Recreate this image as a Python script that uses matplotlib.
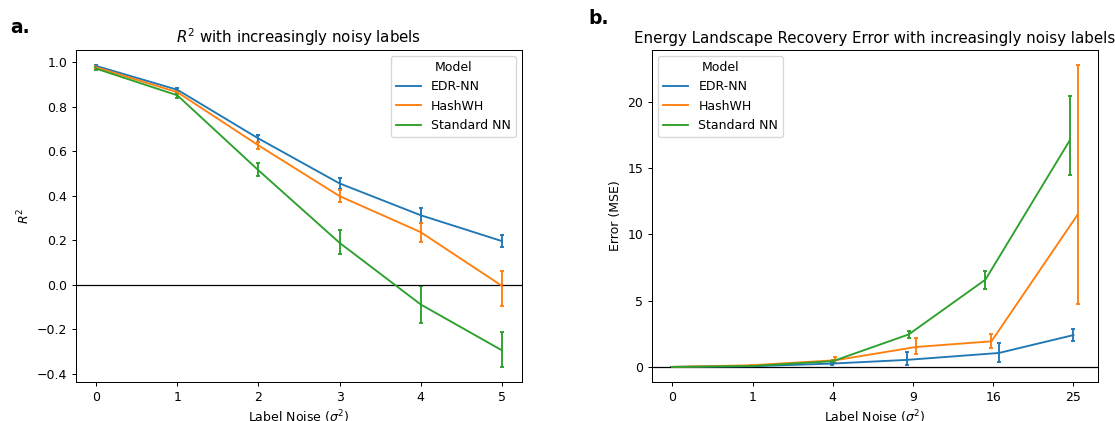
import numpy as np
import matplotlib
matplotlib.use("Agg")
import matplotlib.pyplot as plt
from matplotlib.lines import Line2D

models = ["EDR-NN", "HashWH", "Standard NN"]
colors = ["#1f77b4", "#ff7f0e", "#2ca02c"]

# Panel a: R^2
noise_a = [0, 1, 2, 3, 4, 5]
r2_mean = {
    "EDR-NN":      [0.984, 0.877, 0.658, 0.456, 0.313, 0.197],
    "HashWH":      [0.978, 0.866, 0.627, 0.399, 0.237, -0.004],
    "Standard NN": [0.972, 0.852, 0.515, 0.189, -0.088, -0.294],
}
r2_low = {
    "EDR-NN":      [0.980, 0.870, 0.642, 0.432, 0.279, 0.172],
    "HashWH":      [0.974, 0.859, 0.612, 0.372, 0.194, -0.093],
    "Standard NN": [0.966, 0.840, 0.490, 0.140, -0.170, -0.369],
}
r2_high = {
    "EDR-NN":      [0.988, 0.884, 0.673, 0.480, 0.347, 0.222],
    "HashWH":      [0.982, 0.873, 0.642, 0.427, 0.280, 0.060],
    "Standard NN": [0.978, 0.864, 0.546, 0.245, -0.003, -0.212],
}

# Panel b: MSE
noise_b_labels = ["0", "1", "4", "9", "16", "25"]
mse_mean = {
    "EDR-NN":      [0.0, 0.05, 0.25, 0.53, 1.05, 2.40],
    "HashWH":      [0.0, 0.12, 0.50, 1.50, 1.93, 11.49],
    "Standard NN": [0.0, 0.07, 0.43, 2.45, 6.58, 17.10],
}
mse_low = {
    "EDR-NN":      [0.0, 0.03, 0.13, 0.18, 0.38, 1.98],
    "HashWH":      [0.0, 0.08, 0.30, 1.00, 1.40, 4.76],
    "Standard NN": [0.0, 0.05, 0.33, 2.18, 5.86, 14.44],
}
mse_high = {
    "EDR-NN":      [0.0, 0.07, 0.40, 1.10, 1.80, 2.88],
    "HashWH":      [0.0, 0.16, 0.73, 2.20, 2.50, 22.75],
    "Standard NN": [0.0, 0.09, 0.55, 2.73, 7.26, 20.40],
}
# horizontal jitter of each series in panel b (category units)
mse_offset = {
    "EDR-NN":      [0.0, 0.0, -0.01, -0.075, 0.07, 0.0],
    "HashWH":      [0.0, -0.025, 0.03, 0.035, -0.022, 0.053],
    "Standard NN": [0.0, 0.0, 0.0, -0.053, -0.097, -0.044],
}

DPI = 90
W, H = 1115, 421
fig = plt.figure(figsize=(W / DPI, H / DPI), dpi=DPI)
ax1 = fig.add_axes([76 / W, 1 - 382 / H, (522 - 76) / W, (382 - 50) / H])
ax2 = fig.add_axes([652 / W, 1 - 382 / H, (1098 - 652) / W, (382 - 50) / H])

handles = [Line2D([], [], color=c, lw=1.5) for c in colors]

for m, c in zip(models, colors):
    mean = np.array(r2_mean[m])
    err = np.vstack([mean - np.array(r2_low[m]), np.array(r2_high[m]) - mean])
    ax1.errorbar(noise_a, mean, yerr=err, color=c, lw=1.5, elinewidth=1.5,
                 capsize=1.5, capthick=1.5)
ax1.axhline(0, color="black", lw=1)
ax1.set_title("$R^2$ with increasingly noisy labels", fontsize=12)
ax1.set_xlabel("Label Noise ($\\sigma^2$)", fontsize=10)
ax1.set_ylabel("$R^2$", fontsize=10)
ax1.set_xticks(noise_a)
ax1.legend(handles, models, title="Model", loc="upper right", fontsize=10, title_fontsize=10)

idx = np.arange(len(noise_b_labels))
for m, c in zip(models, colors):
    x = idx + np.array(mse_offset[m])
    mean = np.array(mse_mean[m])
    err = np.vstack([mean - np.array(mse_low[m]), np.array(mse_high[m]) - mean])
    ax2.errorbar(x, mean, yerr=err, color=c, lw=1.5, elinewidth=1.5,
                 capsize=1.5, capthick=1.5)
ax2.axhline(0, color="black", lw=1)
ax2.set_xticks(idx)
ax2.set_xticklabels(noise_b_labels)
ax2.set_title("Energy Landscape Recovery Error with increasingly noisy labels", fontsize=12)
ax2.set_xlabel("Label Noise ($\\sigma^2$)", fontsize=10)
ax2.set_ylabel("Error (MSE)", fontsize=10)
ax2.legend(handles, models, title="Model", loc="upper left", fontsize=10, title_fontsize=10)

fig.text(10 / W, 1 - 33 / H, "a.", fontsize=15, fontweight="bold", va="baseline")
fig.text(588 / W, 1 - 24 / H, "b.", fontsize=15, fontweight="bold", va="baseline")

fig.savefig("out.png", dpi=DPI)
